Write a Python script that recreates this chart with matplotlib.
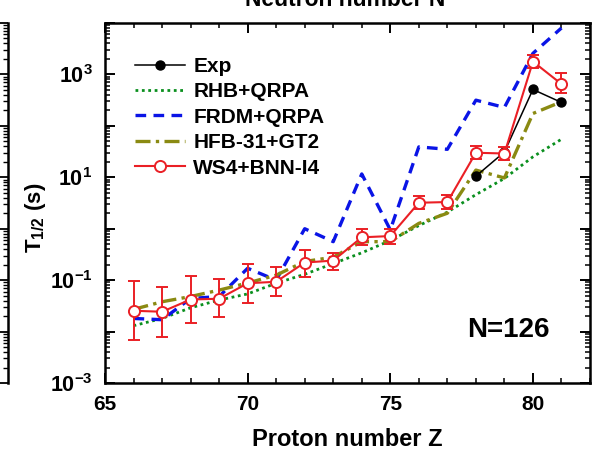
import numpy as np
import matplotlib
matplotlib.use("Agg")
import matplotlib.pyplot as plt
from matplotlib.ticker import LogLocator, NullFormatter, FixedLocator, MultipleLocator

plt.rcParams['font.family'] = ['Liberation Sans', 'DejaVu Sans']
plt.rcParams['font.weight'] = 'bold'
plt.rcParams['mathtext.fontset'] = 'custom'
plt.rcParams['mathtext.rm'] = 'Liberation Sans:bold'
plt.rcParams['mathtext.bf'] = 'Liberation Sans:bold'
plt.rcParams['mathtext.it'] = 'Liberation Sans:bold'

# ---- data ----
Z = [66, 67, 68, 69, 70, 71, 72, 73, 74, 75, 76, 77, 78, 79, 80, 81]
Z_exp = [78, 79, 80, 81]
exp_vals = [10.5, 31, 510, 285]
rhb_qrpa = [0.013, 0.018, 0.029, 0.041, 0.054, 0.087, 0.13, 0.21, 0.34, 0.59, 1.15, 2.1, 4.6, 9.5, 25, 55]
frdm_qrpa = [0.018, 0.017, 0.044, 0.048, 0.17, 0.10, 1.0, 0.56, 11.6, 0.95, 39, 35, 316, 228, 2570, 8000]
hfb31_gt2 = [0.027, 0.038, 0.048, 0.064, 0.088, 0.125, 0.23, 0.28, 0.56, 0.56, 1.27, 2.0, 13.8, 9.7, 174, 294]
ws4_bnn = [0.0254, 0.0243, 0.042, 0.0435, 0.087, 0.093, 0.22, 0.24, 0.68, 0.72, 3.2, 3.3, 30, 29, 1780, 650]
ws4_lo = [0.0068, 0.0077, 0.015, 0.019, 0.036, 0.049, 0.117, 0.16, 0.48, 0.50, 2.4, 2.4, 23, 22, 1310, 427]
ws4_hi = [0.096, 0.072, 0.12, 0.105, 0.21, 0.18, 0.38, 0.34, 0.97, 0.97, 4.3, 4.5, 40.5, 39, 2380, 1050]

legend_labels = ['Exp', 'RHB+QRPA', 'FRDM+QRPA', 'HFB-31+GT2', 'WS4+BNN-I4']
xticks = [65, 70, 75, 80]
ylabel_exps = [-3, -1, 1, 3]

W, H = 596, 454
fig = plt.figure(figsize=(W / 100, H / 100), dpi=100)

def fx(px):
    return px / W

def fy(py):
    return 1 - py / H

# partial neighbour panel on the left (only its right edge visible)
axL = fig.add_axes([fx(-400), fy(383), fx(408), fy(23) - fy(383)])
axL.set_yscale('log')
axL.set_ylim(1e-3, 1e4)
axL.set_xlim(0, 1)
for s in ['left', 'top', 'bottom']:
    axL.spines[s].set_visible(False)
axL.spines['right'].set_linewidth(1.8)
axL.tick_params(axis='y', which='both', left=False, right=True, labelleft=False,
                labelright=False, direction='in')
axL.tick_params(axis='y', which='major', length=6.5, width=1.3)
axL.tick_params(axis='y', which='minor', length=3.5, width=1.0)
axL.yaxis.set_major_locator(LogLocator(base=10, numticks=20))
axL.yaxis.set_minor_locator(LogLocator(base=10, subs=np.arange(2, 10), numticks=20))
axL.set_xticks([])

# main axes
ax = fig.add_axes([fx(105), fy(383), fx(590) - fx(105), fy(23) - fy(383)])
ax.set_yscale('log')
ax.set_xlim(65, 82)
ax.set_ylim(1e-3, 1e4)

c_green = '#0a8f1e'
c_blue = '#0a14e6'
c_olive = '#8a8a12'
c_red = '#ea1f25'

ax.plot(Z_exp, exp_vals, color='black', lw=1.1, marker='o', ms=6.5,
        mfc='black', mec='black', label=legend_labels[0], zorder=5)
ax.plot(Z, rhb_qrpa, color=c_green, lw=2.0, linestyle=(0, (1, 1.3)),
        label=legend_labels[1], zorder=3)
ax.plot(Z, frdm_qrpa, color=c_blue, lw=2.4, linestyle=(0, (3.2, 2.2)),
        label=legend_labels[2], zorder=3)
ax.plot(Z, hfb31_gt2, color=c_olive, lw=2.4, linestyle=(0, (4.5, 1.6, 1.0, 1.6)),
        label=legend_labels[3], zorder=4)

ws = np.array(ws4_bnn)
yerr = np.vstack([ws - np.array(ws4_lo), np.array(ws4_hi) - ws])
ax.errorbar(Z, ws4_bnn, yerr=yerr, fmt='none', ecolor=c_red, elinewidth=1.4,
            capsize=4.5, capthick=1.4, zorder=6)
ax.plot(Z, ws4_bnn, color=c_red, lw=1.5, marker='o', ms=8, mfc='white',
        mec=c_red, mew=1.4, label=legend_labels[4], zorder=7)

# ticks
ax.xaxis.set_major_locator(FixedLocator(xticks))
ax.xaxis.set_minor_locator(MultipleLocator(1))
ax.yaxis.set_major_locator(LogLocator(base=10, numticks=20))
ax.yaxis.set_minor_locator(LogLocator(base=10, subs=np.arange(2, 10), numticks=20))
ax.yaxis.set_minor_formatter(NullFormatter())

def yfmt(v, pos):
    e = int(round(np.log10(v)))
    if e in ylabel_exps:
        return r'$\mathbf{10^{%d}}$' % e
    return ''

ax.yaxis.set_major_formatter(matplotlib.ticker.FuncFormatter(yfmt))
ax.tick_params(axis='both', which='both', direction='in', top=True, right=True)
ax.tick_params(axis='both', which='major', length=7, width=1.4)
ax.tick_params(axis='both', which='minor', length=3.8, width=1.1)
ax.tick_params(axis='x', which='major', pad=9, labelsize=15)
ax.tick_params(axis='y', which='major', pad=9, labelsize=15.5)
for lab in ax.get_xticklabels() + ax.get_yticklabels():
    lab.set_fontweight('bold')
for s in ax.spines.values():
    s.set_linewidth(1.8)

ax.set_xlabel('Proton number Z', fontsize=17, fontweight='bold', labelpad=10)
ax.set_ylabel(r'$\mathbf{T_{1/2}}$ (s)', fontsize=16, fontweight='bold')
ax.yaxis.set_label_coords(-0.118, 0.458)

ax.text(0.831, 0.147, 'N=126', transform=ax.transAxes, fontsize=20,
        fontweight='bold', ha='center', va='center')

leg = ax.legend(loc='upper left', bbox_to_anchor=(0.062, 0.906), frameon=False,
                fontsize=15, handlelength=2.4, handletextpad=0.4,
                labelspacing=0.31, borderaxespad=0.0, borderpad=0.0)
for t in leg.get_texts():
    t.set_fontweight('bold')

# cut-off title of the upper panel
fig.text(fx(345), fy(6), 'Neutron number N', fontsize=16.5, fontweight='bold',
         ha='center', va='baseline')

fig.savefig('out.png', dpi=100)
